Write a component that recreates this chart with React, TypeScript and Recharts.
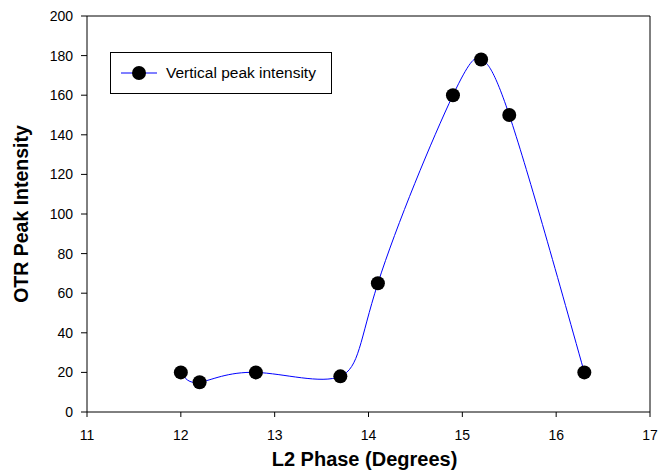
import { Label, Line, LineChart, ReferenceLine, XAxis, YAxis } from "recharts";

const phases = [12, 12.2, 12.8, 13.7, 14.1, 14.9, 15.2, 15.5, 16.3];
const peakIntensity = [20, 15, 20, 18, 65, 160, 178, 150, 20];
const xTicks = [11, 12, 13, 14, 15, 16, 17];
const yTicks = [0, 20, 40, 60, 80, 100, 120, 140, 160, 180, 200];

const data = phases.map((phase, i) => ({ phase, peak: peakIntensity[i] }));

const font = "'Liberation Sans', Arial, sans-serif";

function LegendBox() {
  return (
    <div
      style={{
        position: "absolute",
        left: 110,
        top: 52,
        width: 220,
        height: 40,
        border: "1px solid #000",
        background: "#fff",
        display: "flex",
        alignItems: "center",
        fontFamily: font,
        fontSize: 15.5,
        color: "#000",
      }}
    >
      <svg width={45} height={20} style={{ marginLeft: 10 }}>
        <line x1={0} y1={10} x2={36} y2={10} stroke="#0000ff" strokeWidth={1} />
        <circle cx={18} cy={10} r={7} fill="#000" />
      </svg>
      <span>Vertical peak intensity</span>
    </div>
  );
}

export default function App() {
  return (
    <div style={{ position: "relative", width: 669, height: 471, background: "#fff" }}>
      <style>{`body{margin:0}`}</style>
      <LineChart width={669} height={471} data={data} margin={{ top: 16, right: 19, left: 0, bottom: 0 }}>
        <XAxis
          dataKey="phase"
          type="number"
          domain={[11, 17]}
          ticks={xTicks}
          height={59}
          stroke="#000"
          tickSize={5}
          tickMargin={13}
          tick={{ fontSize: 14, fill: "#000", fontFamily: font }}
        >
          <Label
            value="L2 Phase (Degrees)"
            position="insideBottom"
            offset={5}
            dx={-4}
            style={{ fontSize: 20, fontWeight: "bold", fill: "#000", fontFamily: font }}
          />
        </XAxis>
        <YAxis
          type="number"
          domain={[0, 200]}
          ticks={yTicks}
          width={87}
          stroke="#000"
          tickSize={6}
          tickMargin={8}
          tick={{ fontSize: 14, fill: "#000", fontFamily: font }}
        >
          <Label
            value="OTR Peak Intensity"
            angle={-90}
            position="insideLeft"
            offset={21}
            style={{ textAnchor: "middle", fontSize: 19.5, fontWeight: "bold", fill: "#000", fontFamily: font }}
          />
        </YAxis>
        <ReferenceLine y={200} stroke="#000" strokeWidth={1} />
        <ReferenceLine x={17} stroke="#000" strokeWidth={1} />
        <Line
          type="natural"
          dataKey="peak"
          name="Vertical peak intensity"
          stroke="#0000ff"
          strokeWidth={1}
          dot={{ r: 7, fill: "#000", stroke: "#000", strokeWidth: 0 }}
          activeDot={false}
          isAnimationActive={false}
        />
      </LineChart>
      <LegendBox />
    </div>
  );
}
